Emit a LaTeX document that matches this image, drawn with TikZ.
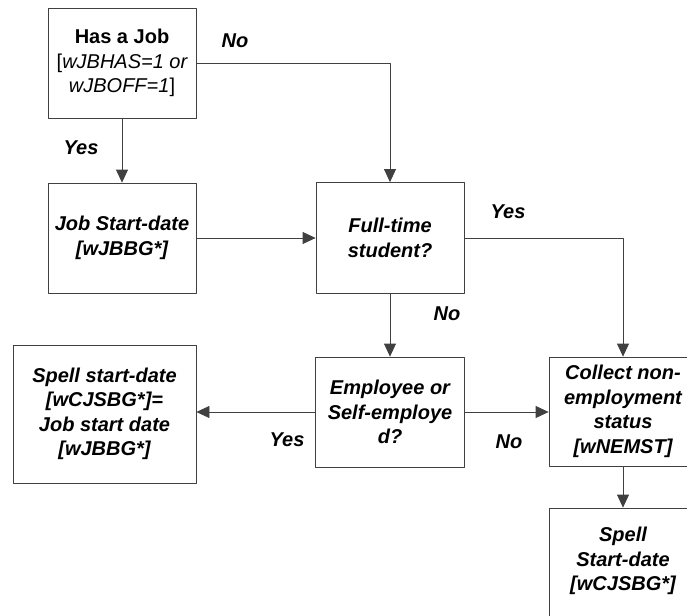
\documentclass[tikz,border=0pt]{standalone}
\usepackage{fontspec}
\setmainfont{Liberation Sans}
\usetikzlibrary{arrows.meta}

\tikzset{
  box/.style={draw=black!75, line width=0.8pt, align=center,
    minimum width=148pt, minimum height=110pt, inner sep=2pt,
    font=\fontsize{20}{24.5}\selectfont\bfseries\itshape},
  lbl/.style={font=\fontsize{20}{24}\selectfont\bfseries\itshape},
  flow/.style={draw=black!75, line width=0.8pt, -{Triangle[length=13pt,width=12pt]}}
}

\begin{document}
\begin{tikzpicture}[x=1pt, y=-1pt, line cap=round, line join=round]

% Frame
\useasboundingbox (0,0) rectangle (687,615);
\clip (0,0) rectangle (687,615);

% Boxes
\node[box] (job) at (122,63) {\upshape Has a Job\\
  \mdseries\upshape{[}\itshape wJBHAS=1 or\\
  \mdseries\itshape wJBOFF=1\upshape]};
\node[box] (jbbg) at (122,238) {Job Start-date\\ {[}wJBBG*]};
\node[box, minimum height=111pt] (fts) at (390,238) {Full-time\\ student?};
\node[box, minimum width=149pt] (emp) at (390,412) {Employee or\\ Self-employe\\ d?};
\node[box, minimum width=183pt, minimum height=138pt] (spell) at (104.5,414)
  {Spell start-date\\ {[}wCJSBG*]=\\ Job start date\\ {[}wJBBG*]};
\node[box, minimum height=109pt] (nemst) at (623,411.5)
  {Collect non-\\ employment\\ status\\ {[}wNEMST]};
\node[box] (cjsbg) at (623,563) {Spell\\ Start-date\\ {[}wCJSBG*]\\[-16.5pt]};

% Connectors
\draw[flow] (job) -- (jbbg);
\draw[flow] (jbbg) -- (fts);
\draw[flow] (job.east) -| (fts.north);
\draw[flow] (fts.east) -| (nemst.north);
\draw[flow] (fts) -- (emp);
\draw[flow] (emp.west) -- (emp.west -| spell.east);
\draw[flow] (emp.east) -- (emp.east -| nemst.west);
\draw[flow] (nemst) -- (cjsbg);

% Labels
\node[lbl] (nojob) at (235,41) {No};
\node[lbl] (yesjob) at (81,148) {Yes};
\node[lbl] (yesfts) at (508,212) {Yes};
\node[lbl] (nofts) at (447,314) {No};
\node[lbl] (yesemp) at (287,440) {Yes};
\node[lbl] (noemp) at (509,442) {No};

\end{tikzpicture}
\end{document}
